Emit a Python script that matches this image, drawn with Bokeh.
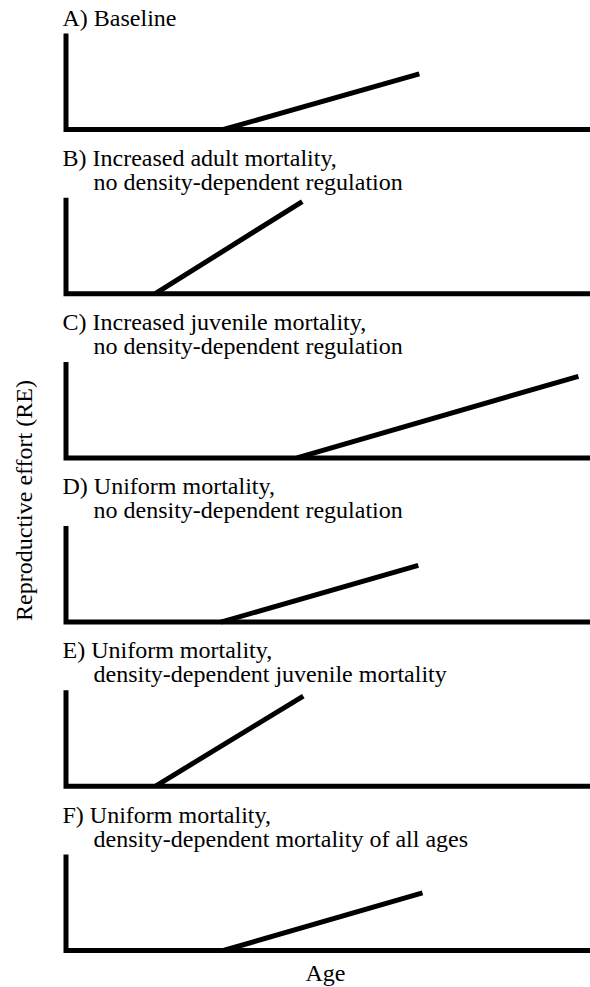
import numpy as np
from bokeh.plotting import figure
from bokeh.models import Range1d, ColumnDataSource
from bokeh.core.properties import value
from bokeh.embed import file_html
from bokeh.resources import INLINE

# ---------------- data (schematic values) ----------------
title_line1 = [
    "A) Baseline",
    "B) Increased adult mortality,",
    "C) Increased juvenile mortality,",
    "D) Uniform mortality,",
    "E) Uniform mortality,",
    "F) Uniform mortality,",
]
title_line2 = [
    "",
    "no density-dependent regulation",
    "no density-dependent regulation",
    "no density-dependent regulation",
    "density-dependent juvenile mortality",
    "density-dependent mortality of all ages",
]
onset_age = [3.0, 1.7, 4.4, 2.95, 1.7, 3.0]        # age where RE starts rising
end_age = [6.73, 4.5, 9.76, 6.71, 4.52, 6.79]      # age at line end
end_re = [0.58, 0.96, 0.85, 0.59, 0.94, 0.60]      # RE at line end
re_axis_max = 1.0
age_axis_max = 10.0
x_label = "Age"
y_label = "Reproductive effort (RE)"

# ---------------- layout constants ----------------
W, H = 590, 987
PX_AGE = 52.5          # pixels per age unit
PX_RE = 96.0           # pixels per RE unit
AXIS_PX = 65.5         # page x of age 0
BASE_PX = 950.0        # page y of bottom panel baseline
STEP = 164.2 / PX_RE   # panel spacing in RE units
TXT_SHIFT = 8.0        # compensate text baseline placement (px)
FONT = value("Liberation Serif")
FS = value("24px")
LW = 5

x_lo = (0 - AXIS_PX) / PX_AGE
x_hi = (W - AXIS_PX) / PX_AGE
y_hi = BASE_PX / PX_RE
y_lo = (BASE_PX - H) / PX_RE

p = figure(width=W, height=H, x_range=Range1d(x_lo, x_hi), y_range=Range1d(y_lo, y_hi),
           output_backend="svg", toolbar_location=None,
           x_axis_location=None, y_axis_location=None,
           min_border=0, outline_line_color=None)
p.grid.visible = False

n = len(title_line1)
base = [(n - 1 - i) * STEP for i in range(n)]

# L-shaped axes of each panel
axes_src = ColumnDataSource(dict(
    xs=[[0.0, 0.0, age_axis_max + 1] for _ in range(n)],
    ys=[[b + re_axis_max, b, b] for b in base],
))
p.multi_line("xs", "ys", source=axes_src, line_color="black", line_width=LW,
             line_join="miter", line_cap="butt")

# RE schedule lines
re_src = ColumnDataSource(dict(
    x0=onset_age, y0=base, x1=end_age, y1=[b + r for b, r in zip(base, end_re)],
))
p.segment("x0", "y0", "x1", "y1", source=re_src, line_color="black", line_width=LW,
          line_cap="butt")

def ty(page_y):
    return (BASE_PX - page_y + TXT_SHIFT) / PX_RE

# Panel titles
L2_OFF = 104 / PX_RE
L1_OFF = 128 / PX_RE
SH = TXT_SHIFT / PX_RE
X1 = (62 - AXIS_PX) / PX_AGE
X2 = (93 - AXIS_PX) / PX_AGE
t_x, t_y, t_txt = [], [], []
for i in range(n):
    if title_line2[i]:
        t_x += [X1, X2]
        t_y += [base[i] + L1_OFF + SH, base[i] + L2_OFF + SH]
        t_txt += [title_line1[i], title_line2[i]]
    else:
        t_x.append(X1)
        t_y.append(base[i] + L2_OFF + SH)
        t_txt.append(title_line1[i])
p.text(x=t_x, y=t_y, text=t_txt, text_font=FONT, text_font_size=FS,
       text_baseline="alphabetic", text_align="left", text_color="black")

# Axis labels
p.text(x=[(325 - AXIS_PX) / PX_AGE], y=[ty(980)], text=[x_label],
       text_font=FONT, text_font_size=FS, text_baseline="alphabetic",
       text_align="center", text_color="black")
p.text(x=[(23 - AXIS_PX) / PX_AGE], y=[(BASE_PX - 500) / PX_RE], text=[y_label],
       angle=np.pi / 2, text_font=FONT, text_font_size=FS, text_baseline="middle",
       text_align="center", text_color="black")

open("out.html", "w").write(file_html(p, INLINE))
